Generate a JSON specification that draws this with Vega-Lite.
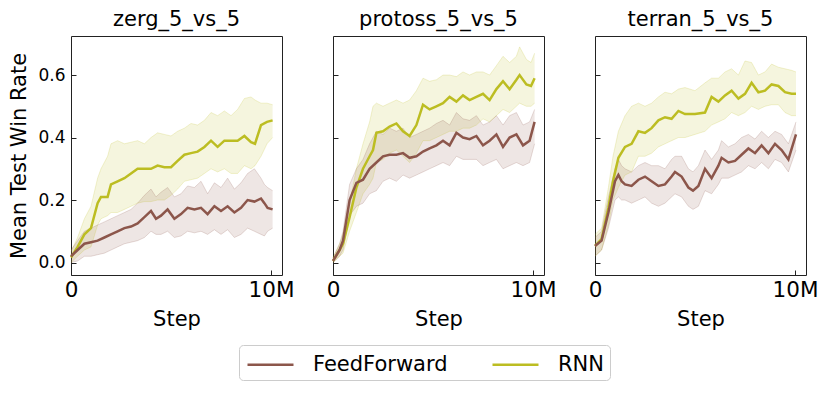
{
  "$schema": "https://vega.github.io/schema/vega-lite/v6.json",
  "padding": {"left": 8, "top": 8, "right": 0, "bottom": 0},
  "config": {
    "font": "DejaVu Sans",
    "view": {"stroke": "#222222", "strokeWidth": 1},
    "concat": {"spacing": 30},
    "title": {"font": "DejaVu Sans", "fontSize": 21, "fontWeight": "normal", "color": "#000000", "anchor": "middle", "offset": 6},
    "axis": {"grid": false, "domain": false, "tickSize": -5, "tickColor": "#222222", "tickWidth": 1, "labelFont": "DejaVu Sans", "titleFont": "DejaVu Sans", "titleFontWeight": "normal", "titleFontSize": 21, "titleColor": "#000000", "labelColor": "#000000", "labelFlush": false},
    "axisX": {"labelFontSize": 21.5, "labelPadding": 9, "titlePadding": 8},
    "axisY": {"labelFontSize": 17, "labelPadding": 11, "titlePadding": 8}
  },
  "resolve": {"scale": {"stroke": "shared", "fill": "shared", "color": "shared"}, "legend": {"stroke": "shared"}},
  "datasets": {
    "runs": [
      {"env":"zerg","algo":"RNN","step":0,"mean":0.016,"lo":0.0,"hi":0.035},
      {"env":"zerg","algo":"RNN","step":0.33,"mean":0.05,"lo":0.02,"hi":0.08},
      {"env":"zerg","algo":"RNN","step":0.67,"mean":0.09,"lo":0.04,"hi":0.14},
      {"env":"zerg","algo":"RNN","step":1.0,"mean":0.11,"lo":0.05,"hi":0.18},
      {"env":"zerg","algo":"RNN","step":1.33,"mean":0.19,"lo":0.12,"hi":0.27},
      {"env":"zerg","algo":"RNN","step":1.5,"mean":0.21,"lo":0.14,"hi":0.30},
      {"env":"zerg","algo":"RNN","step":1.83,"mean":0.21,"lo":0.15,"hi":0.34},
      {"env":"zerg","algo":"RNN","step":2.0,"mean":0.25,"lo":0.16,"hi":0.38},
      {"env":"zerg","algo":"RNN","step":2.33,"mean":0.26,"lo":0.16,"hi":0.39},
      {"env":"zerg","algo":"RNN","step":2.67,"mean":0.27,"lo":0.17,"hi":0.38},
      {"env":"zerg","algo":"RNN","step":3.0,"mean":0.285,"lo":0.18,"hi":0.385},
      {"env":"zerg","algo":"RNN","step":3.33,"mean":0.30,"lo":0.19,"hi":0.39},
      {"env":"zerg","algo":"RNN","step":3.67,"mean":0.30,"lo":0.195,"hi":0.38},
      {"env":"zerg","algo":"RNN","step":4.0,"mean":0.30,"lo":0.195,"hi":0.40},
      {"env":"zerg","algo":"RNN","step":4.33,"mean":0.31,"lo":0.20,"hi":0.415},
      {"env":"zerg","algo":"RNN","step":4.67,"mean":0.305,"lo":0.20,"hi":0.41},
      {"env":"zerg","algo":"RNN","step":5.0,"mean":0.305,"lo":0.215,"hi":0.405},
      {"env":"zerg","algo":"RNN","step":5.33,"mean":0.325,"lo":0.235,"hi":0.42},
      {"env":"zerg","algo":"RNN","step":5.67,"mean":0.345,"lo":0.26,"hi":0.43},
      {"env":"zerg","algo":"RNN","step":6.0,"mean":0.35,"lo":0.265,"hi":0.445},
      {"env":"zerg","algo":"RNN","step":6.33,"mean":0.355,"lo":0.27,"hi":0.44},
      {"env":"zerg","algo":"RNN","step":6.67,"mean":0.37,"lo":0.285,"hi":0.455},
      {"env":"zerg","algo":"RNN","step":7.0,"mean":0.39,"lo":0.30,"hi":0.48},
      {"env":"zerg","algo":"RNN","step":7.33,"mean":0.37,"lo":0.29,"hi":0.47},
      {"env":"zerg","algo":"RNN","step":7.67,"mean":0.39,"lo":0.30,"hi":0.485},
      {"env":"zerg","algo":"RNN","step":8.0,"mean":0.39,"lo":0.285,"hi":0.47},
      {"env":"zerg","algo":"RNN","step":8.33,"mean":0.39,"lo":0.285,"hi":0.49},
      {"env":"zerg","algo":"RNN","step":8.67,"mean":0.405,"lo":0.31,"hi":0.525},
      {"env":"zerg","algo":"RNN","step":9.0,"mean":0.385,"lo":0.30,"hi":0.53},
      {"env":"zerg","algo":"RNN","step":9.2,"mean":0.38,"lo":0.31,"hi":0.52},
      {"env":"zerg","algo":"RNN","step":9.5,"mean":0.44,"lo":0.34,"hi":0.51},
      {"env":"zerg","algo":"RNN","step":9.8,"mean":0.45,"lo":0.38,"hi":0.51},
      {"env":"zerg","algo":"RNN","step":10.08,"mean":0.455,"lo":0.40,"hi":0.505},

      {"env":"zerg","algo":"FeedForward","step":0,"mean":0.02,"lo":0.0,"hi":0.04},
      {"env":"zerg","algo":"FeedForward","step":0.33,"mean":0.04,"lo":0.005,"hi":0.07},
      {"env":"zerg","algo":"FeedForward","step":0.67,"mean":0.06,"lo":0.02,"hi":0.10},
      {"env":"zerg","algo":"FeedForward","step":1.0,"mean":0.065,"lo":0.02,"hi":0.11},
      {"env":"zerg","algo":"FeedForward","step":1.33,"mean":0.07,"lo":0.025,"hi":0.12},
      {"env":"zerg","algo":"FeedForward","step":1.67,"mean":0.08,"lo":0.03,"hi":0.13},
      {"env":"zerg","algo":"FeedForward","step":2.0,"mean":0.09,"lo":0.04,"hi":0.14},
      {"env":"zerg","algo":"FeedForward","step":2.33,"mean":0.10,"lo":0.05,"hi":0.15},
      {"env":"zerg","algo":"FeedForward","step":2.67,"mean":0.11,"lo":0.06,"hi":0.16},
      {"env":"zerg","algo":"FeedForward","step":3.0,"mean":0.115,"lo":0.065,"hi":0.17},
      {"env":"zerg","algo":"FeedForward","step":3.33,"mean":0.125,"lo":0.07,"hi":0.19},
      {"env":"zerg","algo":"FeedForward","step":3.67,"mean":0.145,"lo":0.08,"hi":0.215},
      {"env":"zerg","algo":"FeedForward","step":4.0,"mean":0.165,"lo":0.10,"hi":0.235},
      {"env":"zerg","algo":"FeedForward","step":4.25,"mean":0.14,"lo":0.09,"hi":0.21},
      {"env":"zerg","algo":"FeedForward","step":4.5,"mean":0.15,"lo":0.09,"hi":0.225},
      {"env":"zerg","algo":"FeedForward","step":4.83,"mean":0.17,"lo":0.10,"hi":0.24},
      {"env":"zerg","algo":"FeedForward","step":5.17,"mean":0.14,"lo":0.08,"hi":0.21},
      {"env":"zerg","algo":"FeedForward","step":5.5,"mean":0.155,"lo":0.085,"hi":0.22},
      {"env":"zerg","algo":"FeedForward","step":5.83,"mean":0.175,"lo":0.10,"hi":0.245},
      {"env":"zerg","algo":"FeedForward","step":6.17,"mean":0.17,"lo":0.095,"hi":0.24},
      {"env":"zerg","algo":"FeedForward","step":6.5,"mean":0.175,"lo":0.10,"hi":0.26},
      {"env":"zerg","algo":"FeedForward","step":6.83,"mean":0.155,"lo":0.09,"hi":0.22},
      {"env":"zerg","algo":"FeedForward","step":7.17,"mean":0.18,"lo":0.105,"hi":0.255},
      {"env":"zerg","algo":"FeedForward","step":7.5,"mean":0.165,"lo":0.09,"hi":0.24},
      {"env":"zerg","algo":"FeedForward","step":7.83,"mean":0.18,"lo":0.105,"hi":0.27},
      {"env":"zerg","algo":"FeedForward","step":8.17,"mean":0.16,"lo":0.08,"hi":0.235},
      {"env":"zerg","algo":"FeedForward","step":8.5,"mean":0.175,"lo":0.09,"hi":0.255},
      {"env":"zerg","algo":"FeedForward","step":8.83,"mean":0.20,"lo":0.11,"hi":0.285},
      {"env":"zerg","algo":"FeedForward","step":9.17,"mean":0.195,"lo":0.10,"hi":0.30},
      {"env":"zerg","algo":"FeedForward","step":9.5,"mean":0.205,"lo":0.09,"hi":0.27},
      {"env":"zerg","algo":"FeedForward","step":9.67,"mean":0.19,"lo":0.085,"hi":0.25},
      {"env":"zerg","algo":"FeedForward","step":9.83,"mean":0.175,"lo":0.10,"hi":0.24},
      {"env":"zerg","algo":"FeedForward","step":10.08,"mean":0.17,"lo":0.11,"hi":0.23},

      {"env":"protoss","algo":"RNN","step":0,"mean":0.005,"lo":0.0,"hi":0.015},
      {"env":"protoss","algo":"RNN","step":0.33,"mean":0.04,"lo":0.02,"hi":0.06},
      {"env":"protoss","algo":"RNN","step":0.5,"mean":0.06,"lo":0.03,"hi":0.09},
      {"env":"protoss","algo":"RNN","step":0.83,"mean":0.145,"lo":0.10,"hi":0.19},
      {"env":"protoss","algo":"RNN","step":1.17,"mean":0.24,"lo":0.16,"hi":0.30},
      {"env":"protoss","algo":"RNN","step":1.5,"mean":0.30,"lo":0.22,"hi":0.38},
      {"env":"protoss","algo":"RNN","step":1.83,"mean":0.34,"lo":0.25,"hi":0.45},
      {"env":"protoss","algo":"RNN","step":2.0,"mean":0.36,"lo":0.27,"hi":0.50},
      {"env":"protoss","algo":"RNN","step":2.17,"mean":0.415,"lo":0.32,"hi":0.51},
      {"env":"protoss","algo":"RNN","step":2.5,"mean":0.42,"lo":0.33,"hi":0.50},
      {"env":"protoss","algo":"RNN","step":2.83,"mean":0.435,"lo":0.35,"hi":0.51},
      {"env":"protoss","algo":"RNN","step":3.17,"mean":0.445,"lo":0.36,"hi":0.52},
      {"env":"protoss","algo":"RNN","step":3.5,"mean":0.42,"lo":0.34,"hi":0.51},
      {"env":"protoss","algo":"RNN","step":3.83,"mean":0.405,"lo":0.32,"hi":0.52},
      {"env":"protoss","algo":"RNN","step":4.17,"mean":0.44,"lo":0.35,"hi":0.55},
      {"env":"protoss","algo":"RNN","step":4.5,"mean":0.505,"lo":0.39,"hi":0.59},
      {"env":"protoss","algo":"RNN","step":4.83,"mean":0.49,"lo":0.39,"hi":0.58},
      {"env":"protoss","algo":"RNN","step":5.17,"mean":0.50,"lo":0.40,"hi":0.585},
      {"env":"protoss","algo":"RNN","step":5.5,"mean":0.51,"lo":0.41,"hi":0.60},
      {"env":"protoss","algo":"RNN","step":5.83,"mean":0.53,"lo":0.42,"hi":0.60},
      {"env":"protoss","algo":"RNN","step":6.17,"mean":0.515,"lo":0.42,"hi":0.595},
      {"env":"protoss","algo":"RNN","step":6.5,"mean":0.535,"lo":0.43,"hi":0.61},
      {"env":"protoss","algo":"RNN","step":6.83,"mean":0.52,"lo":0.43,"hi":0.60},
      {"env":"protoss","algo":"RNN","step":7.17,"mean":0.53,"lo":0.44,"hi":0.61},
      {"env":"protoss","algo":"RNN","step":7.5,"mean":0.54,"lo":0.46,"hi":0.61},
      {"env":"protoss","algo":"RNN","step":7.83,"mean":0.52,"lo":0.45,"hi":0.60},
      {"env":"protoss","algo":"RNN","step":8.17,"mean":0.555,"lo":0.47,"hi":0.63},
      {"env":"protoss","algo":"RNN","step":8.5,"mean":0.58,"lo":0.49,"hi":0.66},
      {"env":"protoss","algo":"RNN","step":8.83,"mean":0.555,"lo":0.48,"hi":0.64},
      {"env":"protoss","algo":"RNN","step":9.17,"mean":0.585,"lo":0.50,"hi":0.66},
      {"env":"protoss","algo":"RNN","step":9.33,"mean":0.60,"lo":0.51,"hi":0.69},
      {"env":"protoss","algo":"RNN","step":9.67,"mean":0.57,"lo":0.50,"hi":0.65},
      {"env":"protoss","algo":"RNN","step":9.9,"mean":0.565,"lo":0.50,"hi":0.64},
      {"env":"protoss","algo":"RNN","step":10.08,"mean":0.59,"lo":0.51,"hi":0.67},

      {"env":"protoss","algo":"FeedForward","step":0,"mean":0.005,"lo":0.0,"hi":0.015},
      {"env":"protoss","algo":"FeedForward","step":0.33,"mean":0.04,"lo":0.02,"hi":0.06},
      {"env":"protoss","algo":"FeedForward","step":0.5,"mean":0.07,"lo":0.04,"hi":0.10},
      {"env":"protoss","algo":"FeedForward","step":0.83,"mean":0.20,"lo":0.15,"hi":0.25},
      {"env":"protoss","algo":"FeedForward","step":1.17,"mean":0.255,"lo":0.18,"hi":0.30},
      {"env":"protoss","algo":"FeedForward","step":1.5,"mean":0.265,"lo":0.19,"hi":0.33},
      {"env":"protoss","algo":"FeedForward","step":1.83,"mean":0.30,"lo":0.22,"hi":0.38},
      {"env":"protoss","algo":"FeedForward","step":2.17,"mean":0.32,"lo":0.23,"hi":0.42},
      {"env":"protoss","algo":"FeedForward","step":2.5,"mean":0.34,"lo":0.26,"hi":0.41},
      {"env":"protoss","algo":"FeedForward","step":2.83,"mean":0.345,"lo":0.27,"hi":0.43},
      {"env":"protoss","algo":"FeedForward","step":3.17,"mean":0.345,"lo":0.26,"hi":0.42},
      {"env":"protoss","algo":"FeedForward","step":3.5,"mean":0.35,"lo":0.28,"hi":0.43},
      {"env":"protoss","algo":"FeedForward","step":3.83,"mean":0.335,"lo":0.27,"hi":0.40},
      {"env":"protoss","algo":"FeedForward","step":4.17,"mean":0.34,"lo":0.28,"hi":0.41},
      {"env":"protoss","algo":"FeedForward","step":4.5,"mean":0.355,"lo":0.29,"hi":0.42},
      {"env":"protoss","algo":"FeedForward","step":4.83,"mean":0.365,"lo":0.30,"hi":0.43},
      {"env":"protoss","algo":"FeedForward","step":5.17,"mean":0.375,"lo":0.31,"hi":0.445},
      {"env":"protoss","algo":"FeedForward","step":5.5,"mean":0.39,"lo":0.32,"hi":0.455},
      {"env":"protoss","algo":"FeedForward","step":5.83,"mean":0.375,"lo":0.31,"hi":0.44},
      {"env":"protoss","algo":"FeedForward","step":6.17,"mean":0.415,"lo":0.34,"hi":0.48},
      {"env":"protoss","algo":"FeedForward","step":6.5,"mean":0.40,"lo":0.33,"hi":0.46},
      {"env":"protoss","algo":"FeedForward","step":6.83,"mean":0.395,"lo":0.33,"hi":0.455},
      {"env":"protoss","algo":"FeedForward","step":7.17,"mean":0.405,"lo":0.33,"hi":0.47},
      {"env":"protoss","algo":"FeedForward","step":7.5,"mean":0.375,"lo":0.31,"hi":0.44},
      {"env":"protoss","algo":"FeedForward","step":7.83,"mean":0.39,"lo":0.32,"hi":0.45},
      {"env":"protoss","algo":"FeedForward","step":8.17,"mean":0.41,"lo":0.33,"hi":0.47},
      {"env":"protoss","algo":"FeedForward","step":8.5,"mean":0.37,"lo":0.30,"hi":0.44},
      {"env":"protoss","algo":"FeedForward","step":8.83,"mean":0.40,"lo":0.31,"hi":0.47},
      {"env":"protoss","algo":"FeedForward","step":9.17,"mean":0.41,"lo":0.32,"hi":0.48},
      {"env":"protoss","algo":"FeedForward","step":9.5,"mean":0.375,"lo":0.31,"hi":0.44},
      {"env":"protoss","algo":"FeedForward","step":9.83,"mean":0.39,"lo":0.32,"hi":0.45},
      {"env":"protoss","algo":"FeedForward","step":10.08,"mean":0.45,"lo":0.38,"hi":0.49},

      {"env":"terran","algo":"RNN","step":0,"mean":0.053,"lo":0.02,"hi":0.09},
      {"env":"terran","algo":"RNN","step":0.33,"mean":0.075,"lo":0.04,"hi":0.11},
      {"env":"terran","algo":"RNN","step":0.67,"mean":0.175,"lo":0.12,"hi":0.24},
      {"env":"terran","algo":"RNN","step":0.9,"mean":0.26,"lo":0.20,"hi":0.34},
      {"env":"terran","algo":"RNN","step":1.17,"mean":0.335,"lo":0.24,"hi":0.42},
      {"env":"terran","algo":"RNN","step":1.5,"mean":0.37,"lo":0.28,"hi":0.47},
      {"env":"terran","algo":"RNN","step":1.83,"mean":0.38,"lo":0.29,"hi":0.50},
      {"env":"terran","algo":"RNN","step":2.17,"mean":0.42,"lo":0.34,"hi":0.51},
      {"env":"terran","algo":"RNN","step":2.5,"mean":0.415,"lo":0.34,"hi":0.50},
      {"env":"terran","algo":"RNN","step":2.83,"mean":0.43,"lo":0.35,"hi":0.51},
      {"env":"terran","algo":"RNN","step":3.17,"mean":0.455,"lo":0.37,"hi":0.53},
      {"env":"terran","algo":"RNN","step":3.5,"mean":0.465,"lo":0.38,"hi":0.545},
      {"env":"terran","algo":"RNN","step":3.83,"mean":0.46,"lo":0.39,"hi":0.54},
      {"env":"terran","algo":"RNN","step":4.17,"mean":0.485,"lo":0.40,"hi":0.555},
      {"env":"terran","algo":"RNN","step":4.5,"mean":0.475,"lo":0.40,"hi":0.56},
      {"env":"terran","algo":"RNN","step":5.0,"mean":0.475,"lo":0.41,"hi":0.55},
      {"env":"terran","algo":"RNN","step":5.5,"mean":0.48,"lo":0.42,"hi":0.575},
      {"env":"terran","algo":"RNN","step":5.83,"mean":0.53,"lo":0.44,"hi":0.59},
      {"env":"terran","algo":"RNN","step":6.17,"mean":0.515,"lo":0.45,"hi":0.59},
      {"env":"terran","algo":"RNN","step":6.5,"mean":0.535,"lo":0.46,"hi":0.61},
      {"env":"terran","algo":"RNN","step":6.83,"mean":0.55,"lo":0.48,"hi":0.62},
      {"env":"terran","algo":"RNN","step":7.17,"mean":0.525,"lo":0.47,"hi":0.60},
      {"env":"terran","algo":"RNN","step":7.5,"mean":0.54,"lo":0.48,"hi":0.645},
      {"env":"terran","algo":"RNN","step":7.83,"mean":0.575,"lo":0.50,"hi":0.64},
      {"env":"terran","algo":"RNN","step":8.17,"mean":0.545,"lo":0.49,"hi":0.60},
      {"env":"terran","algo":"RNN","step":8.5,"mean":0.55,"lo":0.50,"hi":0.61},
      {"env":"terran","algo":"RNN","step":8.83,"mean":0.57,"lo":0.505,"hi":0.635},
      {"env":"terran","algo":"RNN","step":9.17,"mean":0.565,"lo":0.505,"hi":0.625},
      {"env":"terran","algo":"RNN","step":9.5,"mean":0.545,"lo":0.48,"hi":0.62},
      {"env":"terran","algo":"RNN","step":9.83,"mean":0.54,"lo":0.47,"hi":0.615},
      {"env":"terran","algo":"RNN","step":10.05,"mean":0.54,"lo":0.47,"hi":0.61},

      {"env":"terran","algo":"FeedForward","step":0,"mean":0.053,"lo":0.02,"hi":0.08},
      {"env":"terran","algo":"FeedForward","step":0.33,"mean":0.07,"lo":0.04,"hi":0.10},
      {"env":"terran","algo":"FeedForward","step":0.67,"mean":0.16,"lo":0.11,"hi":0.21},
      {"env":"terran","algo":"FeedForward","step":1.0,"mean":0.26,"lo":0.20,"hi":0.30},
      {"env":"terran","algo":"FeedForward","step":1.17,"mean":0.28,"lo":0.21,"hi":0.33},
      {"env":"terran","algo":"FeedForward","step":1.33,"mean":0.26,"lo":0.20,"hi":0.31},
      {"env":"terran","algo":"FeedForward","step":1.5,"mean":0.25,"lo":0.20,"hi":0.30},
      {"env":"terran","algo":"FeedForward","step":1.83,"mean":0.245,"lo":0.19,"hi":0.29},
      {"env":"terran","algo":"FeedForward","step":2.17,"mean":0.265,"lo":0.20,"hi":0.31},
      {"env":"terran","algo":"FeedForward","step":2.5,"mean":0.275,"lo":0.21,"hi":0.32},
      {"env":"terran","algo":"FeedForward","step":2.83,"mean":0.26,"lo":0.19,"hi":0.31},
      {"env":"terran","algo":"FeedForward","step":3.17,"mean":0.245,"lo":0.18,"hi":0.31},
      {"env":"terran","algo":"FeedForward","step":3.5,"mean":0.25,"lo":0.19,"hi":0.30},
      {"env":"terran","algo":"FeedForward","step":3.83,"mean":0.275,"lo":0.21,"hi":0.33},
      {"env":"terran","algo":"FeedForward","step":4.0,"mean":0.29,"lo":0.22,"hi":0.34},
      {"env":"terran","algo":"FeedForward","step":4.33,"mean":0.275,"lo":0.21,"hi":0.34},
      {"env":"terran","algo":"FeedForward","step":4.67,"mean":0.24,"lo":0.18,"hi":0.30},
      {"env":"terran","algo":"FeedForward","step":4.9,"mean":0.23,"lo":0.17,"hi":0.29},
      {"env":"terran","algo":"FeedForward","step":5.17,"mean":0.245,"lo":0.18,"hi":0.31},
      {"env":"terran","algo":"FeedForward","step":5.5,"mean":0.30,"lo":0.23,"hi":0.36},
      {"env":"terran","algo":"FeedForward","step":5.83,"mean":0.27,"lo":0.22,"hi":0.33},
      {"env":"terran","algo":"FeedForward","step":6.17,"mean":0.31,"lo":0.25,"hi":0.36},
      {"env":"terran","algo":"FeedForward","step":6.33,"mean":0.335,"lo":0.27,"hi":0.39},
      {"env":"terran","algo":"FeedForward","step":6.67,"mean":0.32,"lo":0.27,"hi":0.37},
      {"env":"terran","algo":"FeedForward","step":7.0,"mean":0.325,"lo":0.28,"hi":0.38},
      {"env":"terran","algo":"FeedForward","step":7.33,"mean":0.345,"lo":0.29,"hi":0.40},
      {"env":"terran","algo":"FeedForward","step":7.67,"mean":0.365,"lo":0.31,"hi":0.41},
      {"env":"terran","algo":"FeedForward","step":8.0,"mean":0.35,"lo":0.30,"hi":0.395},
      {"env":"terran","algo":"FeedForward","step":8.33,"mean":0.375,"lo":0.32,"hi":0.42},
      {"env":"terran","algo":"FeedForward","step":8.67,"mean":0.35,"lo":0.30,"hi":0.40},
      {"env":"terran","algo":"FeedForward","step":9.0,"mean":0.38,"lo":0.33,"hi":0.42},
      {"env":"terran","algo":"FeedForward","step":9.33,"mean":0.36,"lo":0.32,"hi":0.41},
      {"env":"terran","algo":"FeedForward","step":9.67,"mean":0.33,"lo":0.29,"hi":0.38},
      {"env":"terran","algo":"FeedForward","step":10.05,"mean":0.41,"lo":0.36,"hi":0.45}
    ]
  },
  "hconcat": [
    {
      "width": 211, "height": 239, "title": "zerg_5_vs_5",
      "data": {"name": "runs"},
      "transform": [{"filter": "datum.env == 'zerg'"}],
      "encoding": {
        "x": {"field": "step", "type": "quantitative", "scale": {"domain": [0, 10.55], "nice": false, "zero": false}, "axis": {"values": [0, 10], "labelExpr": "datum.value == 0 ? '0' : '10M'", "title": "Step"}}
      },
      "layer": [
        {"mark": {"type": "area", "fillOpacity": 0.15}, "encoding": {"y": {"field": "lo", "type": "quantitative", "scale": {"domain": [-0.04, 0.725], "nice": false, "zero": false}, "axis": {"values": [0, 0.2, 0.4, 0.6], "format": ".1f", "title": "Mean Test Win Rate"}}, "y2": {"field": "hi"}, "fill": {"field": "algo", "type": "nominal", "scale": {"domain": ["RNN", "FeedForward"], "range": ["#bcbd22", "#8c564b"]}, "legend": null}}},
        {"mark": {"type": "line", "strokeWidth": 1, "opacity": 0.2}, "encoding": {"y": {"field": "lo", "type": "quantitative"}, "color": {"field": "algo", "type": "nominal", "scale": {"domain": ["RNN", "FeedForward"], "range": ["#bcbd22", "#8c564b"]}, "legend": null}}},
        {"mark": {"type": "line", "strokeWidth": 1, "opacity": 0.2}, "encoding": {"y": {"field": "hi", "type": "quantitative"}, "color": {"field": "algo", "type": "nominal", "legend": null}}},
        {"mark": {"type": "line", "strokeWidth": 2.5}, "encoding": {"y": {"field": "mean", "type": "quantitative"}, "stroke": {"field": "algo", "type": "nominal", "scale": {"domain": ["FeedForward", "RNN"], "range": ["#8c564b", "#bcbd22"]}, "legend": {"orient": "none", "legendX": 168, "legendY": 309, "direction": "horizontal", "symbolType": "M-0.846,0H2.692", "symbolSize": 676, "symbolStrokeWidth": 2.5, "labelFontSize": 21, "labelFont": "DejaVu Sans", "labelColor": "#000000", "strokeColor": "#cccccc", "cornerRadius": 4, "padding": 5, "columnPadding": 39, "labelOffset": 40, "fillColor": "#ffffff", "title": null}}}}
      ]
    },
    {
      "width": 211, "height": 239, "title": "protoss_5_vs_5",
      "data": {"name": "runs"},
      "transform": [{"filter": "datum.env == 'protoss'"}],
      "encoding": {
        "x": {"field": "step", "type": "quantitative", "scale": {"domain": [0, 10.55], "nice": false, "zero": false}, "axis": {"values": [0, 10], "labelExpr": "datum.value == 0 ? '0' : '10M'", "title": "Step"}}
      },
      "layer": [
        {"mark": {"type": "area", "fillOpacity": 0.15}, "encoding": {"y": {"field": "lo", "type": "quantitative", "scale": {"domain": [-0.04, 0.725], "nice": false, "zero": false}, "axis": {"values": [0, 0.2, 0.4, 0.6], "labels": false, "title": null}}, "y2": {"field": "hi"}, "fill": {"field": "algo", "type": "nominal", "scale": {"domain": ["RNN", "FeedForward"], "range": ["#bcbd22", "#8c564b"]}, "legend": null}}},
        {"mark": {"type": "line", "strokeWidth": 1, "opacity": 0.2}, "encoding": {"y": {"field": "lo", "type": "quantitative"}, "color": {"field": "algo", "type": "nominal", "scale": {"domain": ["RNN", "FeedForward"], "range": ["#bcbd22", "#8c564b"]}, "legend": null}}},
        {"mark": {"type": "line", "strokeWidth": 1, "opacity": 0.2}, "encoding": {"y": {"field": "hi", "type": "quantitative"}, "color": {"field": "algo", "type": "nominal", "legend": null}}},
        {"mark": {"type": "line", "strokeWidth": 2.5}, "encoding": {"y": {"field": "mean", "type": "quantitative"}, "stroke": {"field": "algo", "type": "nominal", "scale": {"domain": ["FeedForward", "RNN"], "range": ["#8c564b", "#bcbd22"]}, "legend": {"orient": "none", "legendX": 168, "legendY": 309, "direction": "horizontal", "symbolType": "M-0.846,0H2.692", "symbolSize": 676, "symbolStrokeWidth": 2.5, "labelFontSize": 21, "labelFont": "DejaVu Sans", "labelColor": "#000000", "strokeColor": "#cccccc", "cornerRadius": 4, "padding": 5, "columnPadding": 39, "labelOffset": 40, "fillColor": "#ffffff", "title": null}}}}
      ]
    },
    {
      "width": 211, "height": 239, "title": "terran_5_vs_5",
      "data": {"name": "runs"},
      "transform": [{"filter": "datum.env == 'terran'"}],
      "encoding": {
        "x": {"field": "step", "type": "quantitative", "scale": {"domain": [0, 10.55], "nice": false, "zero": false}, "axis": {"values": [0, 10], "labelExpr": "datum.value == 0 ? '0' : '10M'", "title": "Step"}}
      },
      "layer": [
        {"mark": {"type": "area", "fillOpacity": 0.15}, "encoding": {"y": {"field": "lo", "type": "quantitative", "scale": {"domain": [-0.04, 0.725], "nice": false, "zero": false}, "axis": {"values": [0, 0.2, 0.4, 0.6], "labels": false, "title": null}}, "y2": {"field": "hi"}, "fill": {"field": "algo", "type": "nominal", "scale": {"domain": ["RNN", "FeedForward"], "range": ["#bcbd22", "#8c564b"]}, "legend": null}}},
        {"mark": {"type": "line", "strokeWidth": 1, "opacity": 0.2}, "encoding": {"y": {"field": "lo", "type": "quantitative"}, "color": {"field": "algo", "type": "nominal", "scale": {"domain": ["RNN", "FeedForward"], "range": ["#bcbd22", "#8c564b"]}, "legend": null}}},
        {"mark": {"type": "line", "strokeWidth": 1, "opacity": 0.2}, "encoding": {"y": {"field": "hi", "type": "quantitative"}, "color": {"field": "algo", "type": "nominal", "legend": null}}},
        {"mark": {"type": "line", "strokeWidth": 2.5}, "encoding": {"y": {"field": "mean", "type": "quantitative"}, "stroke": {"field": "algo", "type": "nominal", "scale": {"domain": ["FeedForward", "RNN"], "range": ["#8c564b", "#bcbd22"]}, "legend": {"orient": "none", "legendX": 168, "legendY": 309, "direction": "horizontal", "symbolType": "M-0.846,0H2.692", "symbolSize": 676, "symbolStrokeWidth": 2.5, "labelFontSize": 21, "labelFont": "DejaVu Sans", "labelColor": "#000000", "strokeColor": "#cccccc", "cornerRadius": 4, "padding": 5, "columnPadding": 39, "labelOffset": 40, "fillColor": "#ffffff", "title": null}}}}
      ]
    }
  ]
}
